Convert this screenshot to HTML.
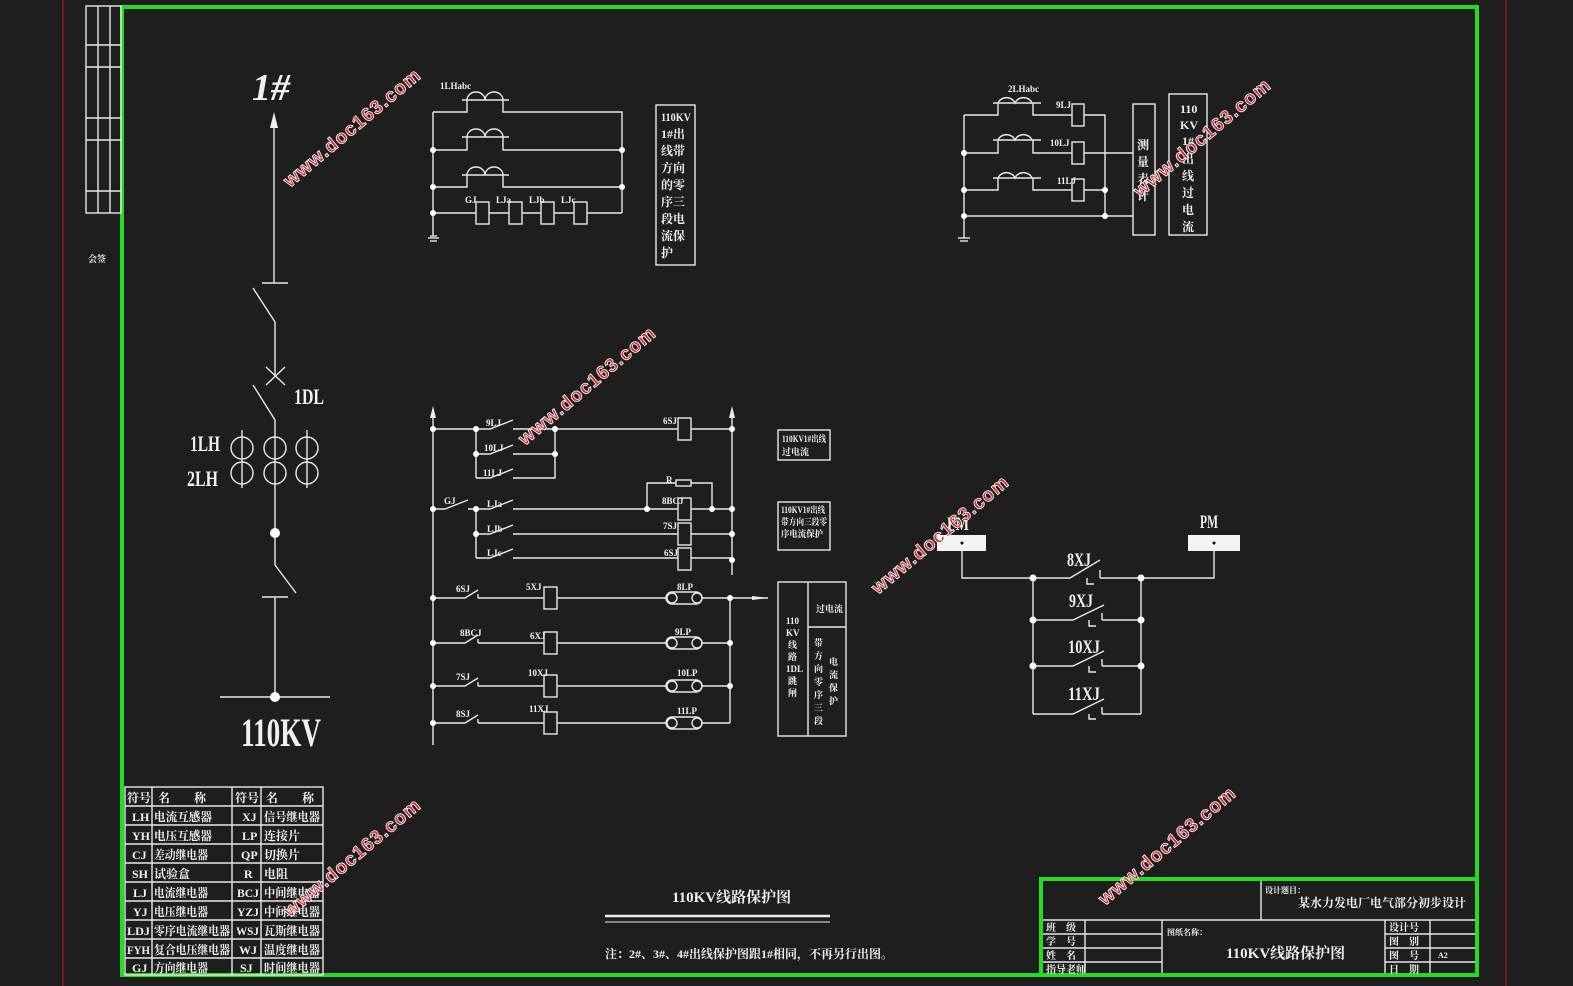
<!DOCTYPE html>
<html><head><meta charset="utf-8"><style>
html,body{margin:0;padding:0;background:#1e1e1e;}
svg{display:block;font-family:"Liberation Serif","Noto Serif CJK SC","Noto Sans CJK SC",serif;}
.w{stroke:#e8e8e8;stroke-width:1.4;fill:none}
.t{fill:#f0f0f0;font-weight:bold}
.wm{fill:#c8282c;stroke:#fff;stroke-width:0.8;font-family:"Liberation Sans",sans-serif;font-weight:bold;font-size:19px;letter-spacing:1px}
</style></head><body>
<svg width="1573" height="986" viewBox="0 0 1573 986" xmlns="http://www.w3.org/2000/svg">
<rect width="1573" height="986" fill="#1e1e1e"/>
<line x1="63" y1="0" x2="63" y2="986" stroke="#8a1c1c" stroke-width="1.5"/>
<line x1="1506" y1="0" x2="1506" y2="986" stroke="#8a1c1c" stroke-width="1.5"/>
<rect x="122" y="7" width="1355" height="968" fill="none" stroke="#22dd22" stroke-width="4"/>

<!-- top-left small block -->
<g class="w" stroke-width="1">
<rect x="86" y="6" width="35" height="207"/>
<line x1="98" y1="6" x2="98" y2="213"/><line x1="110" y1="6" x2="110" y2="213"/>
<line x1="86" y1="45" x2="121" y2="45"/><line x1="86" y1="67" x2="121" y2="67"/>
<line x1="86" y1="118" x2="121" y2="118"/><line x1="86" y1="140" x2="121" y2="140"/>
<line x1="86" y1="191" x2="121" y2="191"/>
</g>
<text class="t" font-size="9" x="88" y="262">会签</text>

<!-- single line diagram -->
<g class="w" stroke-width="1.5">
<line x1="274" y1="120" x2="274" y2="283"/>
<line x1="262" y1="283" x2="288" y2="283"/>
<line x1="253" y1="288" x2="275" y2="322"/>
<line x1="275" y1="322" x2="275" y2="376"/>
<line x1="266" y1="367" x2="285" y2="385"/><line x1="285" y1="367" x2="266" y2="385"/>
<line x1="253" y1="385" x2="275" y2="420"/>
<line x1="275" y1="420" x2="275" y2="565"/>
<line x1="275" y1="565" x2="296" y2="593"/>
<line x1="262" y1="597" x2="288" y2="597"/>
<line x1="275" y1="597" x2="275" y2="697"/>
<line x1="220" y1="697" x2="330" y2="697"/>
<line x1="242" y1="430" x2="242" y2="488"/><line x1="307" y1="430" x2="307" y2="488"/>
<circle cx="242" cy="448" r="11"/><circle cx="275" cy="448" r="11"/><circle cx="307" cy="448" r="11"/>
<circle cx="242" cy="473" r="11"/><circle cx="275" cy="473" r="11"/><circle cx="307" cy="473" r="11"/>
</g>
<polygon points="274,112 270,128 278,128" fill="#eee"/>
<circle cx="275" cy="533" r="5" fill="#fff"/><circle cx="275" cy="697" r="5" fill="#fff"/>
<text class="t" font-size="38" font-style="italic" x="252" y="100" font-weight="normal">1#</text>
<text class="t" font-size="22" x="294" y="404" font-weight="normal" textLength="30" lengthAdjust="spacingAndGlyphs">1DL</text>
<text class="t" font-size="22" x="190" y="451" font-weight="normal" textLength="30" lengthAdjust="spacingAndGlyphs">1LH</text>
<text class="t" font-size="22" x="187" y="486" font-weight="normal" textLength="31" lengthAdjust="spacingAndGlyphs">2LH</text>
<text class="t" font-size="40" x="241" y="746" font-weight="normal" textLength="80" lengthAdjust="spacingAndGlyphs">110KV</text>

<!-- top-left CT circuit -->
<g class="w">
<line x1="433" y1="112" x2="433" y2="236"/>
<line x1="430" y1="236" x2="437" y2="236"/><line x1="428" y1="238" x2="439" y2="238"/><line x1="430" y1="241" x2="437" y2="241"/>
<path d="M433 112H467V100 M503 100V112H622V213"/>
<path d="M433 150H467V137 M503 137V150H622"/>
<path d="M433 187H467V175 M503 175V187H622"/>
<path d="M462 100H509 M467 100a9 8 0 0 1 18 0a9 8 0 0 1 18 0"/>
<path d="M462 137H509 M467 137a9 8 0 0 1 18 0a9 8 0 0 1 18 0"/>
<path d="M462 175H509 M467 175a9 8 0 0 1 18 0a9 8 0 0 1 18 0"/>
<line x1="433" y1="213" x2="622" y2="213"/>
<rect x="476" y="202" width="13" height="22" fill="#1e1e1e"/>
<rect x="509" y="202" width="13" height="22" fill="#1e1e1e"/>
<rect x="541" y="202" width="13" height="22" fill="#1e1e1e"/>
<rect x="574" y="202" width="13" height="22" fill="#1e1e1e"/>
<rect x="656" y="105" width="39" height="160"/>
</g>
<g fill="#fff"><circle cx="433" cy="150" r="3"/><circle cx="433" cy="187" r="3"/><circle cx="433" cy="213" r="3"/><circle cx="622" cy="150" r="3"/><circle cx="622" cy="187" r="3"/></g>
<g class="t" font-size="9"><text x="440" y="89">1LHabc</text><text x="465" y="203">GJ</text><text x="496" y="203">LJa</text><text x="529" y="203">LJb</text><text x="561" y="203">LJc</text></g>
<g class="t" font-size="12"><text x="661" y="121" textLength="30" lengthAdjust="spacingAndGlyphs">110KV</text><text x="661" y="138">1#出</text><text x="661" y="155">线带</text><text x="661" y="172">方向</text><text x="661" y="189">的零</text><text x="661" y="206">序三</text><text x="661" y="223">段电</text><text x="661" y="240">流保</text><text x="661" y="257">护</text></g>

<!-- top-right CT circuit -->
<g class="w">
<line x1="964" y1="115" x2="964" y2="238"/>
<line x1="958" y1="238" x2="970" y2="238"/><line x1="960" y1="241" x2="968" y2="241"/>
<path d="M964 115H998V103 M1033 103V115H1072 M1084 115H1105V216"/>
<path d="M964 153H998V140 M1033 140V153H1072 M1084 153H1133"/>
<path d="M964 190H998V178 M1033 178V190H1072 M1084 190H1105"/>
<path d="M993 103H1041 M998 103a9 8 0 0 1 17 0a9 8 0 0 1 17 0"/>
<path d="M993 140H1041 M998 140a9 8 0 0 1 17 0a9 8 0 0 1 17 0"/>
<path d="M993 178H1041 M998 178a9 8 0 0 1 17 0a9 8 0 0 1 17 0"/>
<line x1="964" y1="216" x2="1133" y2="216"/>
<rect x="1072" y="104" width="12" height="22"/><rect x="1072" y="142" width="12" height="22"/><rect x="1072" y="179" width="12" height="22"/>
<rect x="1133" y="104" width="22" height="131"/>
<rect x="1169" y="94" width="38" height="141"/>
</g>
<g fill="#fff"><circle cx="964" cy="153" r="3"/><circle cx="964" cy="190" r="3"/><circle cx="964" cy="216" r="3"/><circle cx="1105" cy="190" r="3"/><circle cx="1105" cy="216" r="3"/></g>
<g class="t" font-size="9"><text x="1008" y="92">2LHabc</text><text x="1056" y="108">9LJ</text><text x="1050" y="146">10LJ</text><text x="1057" y="184">11LJ</text></g>
<g class="t" font-size="12"><text x="1137" y="149">测</text><text x="1137" y="166">量</text><text x="1137" y="183">表</text><text x="1137" y="200">计</text>
<text x="1180" y="113">110</text><text x="1180" y="129">KV</text><text x="1182" y="145">1#</text><text x="1182" y="163">出</text><text x="1182" y="180">线</text><text x="1182" y="197">过</text><text x="1182" y="214">电</text><text x="1182" y="231">流</text></g>

<!-- control circuit -->
<g class="w">
<line x1="433" y1="416" x2="433" y2="745"/>
<line x1="732" y1="416" x2="732" y2="575"/>
<path d="M433 429H476 M476 429H490 L513 420 M513 429H555 M555 429H678 M691 429H732"/>
<rect x="678" y="418" width="13" height="22"/>
<path d="M476 429V478 M476 454H490L513 445 M513 454H555 M476 478H490L513 469 M513 478H555V429"/>
<path d="M433 509H445L468 500 M468 509H490L513 500 M513 509H678 M691 509H732"/>
<rect x="678" y="498" width="13" height="22"/>
<path d="M647 509V483H676 M691 483H712V509"/>
<rect x="676" y="480" width="15" height="6"/>
<path d="M476 509V558 M476 534H490L513 525 M513 534H678 M691 534H732 M476 558H490L513 549 M513 558H678 M691 558H732"/>
<rect x="678" y="523" width="13" height="22"/><rect x="678" y="548" width="13" height="22"/>
<path d="M433 598H465L478 590 M478 598V594 M478 598H544 M557 598H666 M702 598H768"/>
<path d="M433 643H465L478 635 M478 643V639 M478 643H544 M557 643H666 M702 643H730"/>
<path d="M433 686H465L478 678 M478 686V682 M478 686H544 M557 686H666 M702 686H730"/>
<path d="M433 723H465L478 715 M478 723V719 M478 723H544 M557 723H666 M702 723H730"/>
<line x1="730" y1="598" x2="730" y2="723"/>
<rect x="544" y="587" width="13" height="22"/><rect x="544" y="632" width="13" height="22"/><rect x="544" y="675" width="13" height="22"/><rect x="544" y="712" width="13" height="22"/>
<g><rect x="666" y="592" width="36" height="12" rx="6"/><circle cx="672" cy="598" r="5"/><circle cx="697" cy="598" r="5"/></g>
<g><rect x="666" y="637" width="36" height="12" rx="6"/><circle cx="672" cy="643" r="5"/><circle cx="697" cy="643" r="5"/></g>
<g><rect x="666" y="680" width="36" height="12" rx="6"/><circle cx="672" cy="686" r="5"/><circle cx="697" cy="686" r="5"/></g>
<g><rect x="666" y="717" width="36" height="12" rx="6"/><circle cx="672" cy="723" r="5"/><circle cx="697" cy="723" r="5"/></g>
<rect x="778" y="430" width="52" height="30"/>
<rect x="778" y="502" width="52" height="48"/>
<rect x="778" y="582" width="68" height="154"/>
<line x1="808" y1="582" x2="808" y2="736"/><line x1="808" y1="627" x2="846" y2="627"/>
</g>
<polygon points="433,406 430,418 436,418" fill="#eee"/><polygon points="732,406 729,418 735,418" fill="#eee"/>
<polygon points="768,598 752,596 752,600" fill="#eee"/>
<g fill="#fff"><circle cx="433" cy="429" r="3"/><circle cx="476" cy="429" r="3"/><circle cx="555" cy="429" r="3"/><circle cx="555" cy="454" r="3"/><circle cx="732" cy="429" r="3"/><circle cx="476" cy="454" r="3"/>
<circle cx="433" cy="509" r="3"/><circle cx="476" cy="509" r="3"/><circle cx="476" cy="534" r="3"/><circle cx="647" cy="509" r="3"/><circle cx="712" cy="509" r="3"/><circle cx="732" cy="509" r="3"/><circle cx="732" cy="534" r="3"/><circle cx="732" cy="560" r="3"/>
<circle cx="433" cy="598" r="3"/><circle cx="433" cy="643" r="3"/><circle cx="433" cy="686" r="3"/><circle cx="433" cy="723" r="3"/><circle cx="730" cy="598" r="3"/><circle cx="730" cy="643" r="3"/><circle cx="730" cy="686" r="3"/></g>
<g class="t" font-size="9">
<text x="486" y="426">9LJ</text><text x="484" y="451">10LJ</text><text x="483" y="476">11LJ</text><text x="663" y="424">6SJ</text>
<text x="444" y="504">GJ</text><text x="487" y="507">LJa</text><text x="487" y="532">LJb</text><text x="487" y="556">LJc</text>
<text x="666" y="483">R</text><text x="662" y="504">8BCJ</text><text x="663" y="529">7SJ</text><text x="664" y="556">6SJ</text>
<text x="456" y="592">6SJ</text><text x="460" y="636">8BCJ</text><text x="456" y="680">7SJ</text><text x="456" y="717">8SJ</text>
<text x="526" y="590">5XJ</text><text x="530" y="639">6XJ</text><text x="528" y="676">10XJ</text><text x="529" y="712">11XJ</text>
<text x="677" y="590">8LP</text><text x="675" y="635">9LP</text><text x="677" y="676">10LP</text><text x="677" y="714">11LP</text>
<text x="782" y="442" textLength="44" lengthAdjust="spacingAndGlyphs">110KV1#出线</text><text x="782" y="455">过电流</text>
<text x="781" y="513" textLength="44" lengthAdjust="spacingAndGlyphs">110KV1#出线</text><text x="781" y="525" textLength="46" lengthAdjust="spacingAndGlyphs">带方向三段零</text><text x="781" y="537" textLength="42" lengthAdjust="spacingAndGlyphs">序电流保护</text>
<text x="816" y="612">过电流</text>
</g>
<g class="t" font-size="9"><text x="786" y="624">110</text><text x="786" y="636">KV</text><text x="788" y="648">线</text><text x="788" y="660">路</text><text x="786" y="672">1DL</text><text x="788" y="684">跳</text><text x="788" y="696">闸</text>
<text x="814" y="646">带</text><text x="814" y="659">方</text><text x="814" y="672">向</text><text x="814" y="685">零</text><text x="814" y="698">序</text><text x="814" y="711">三</text><text x="814" y="724">段</text>
<text x="829" y="665">电</text><text x="829" y="678">流</text><text x="829" y="691">保</text><text x="829" y="704">护</text></g>

<!-- FM / PM circuit -->
<rect x="937" y="535" width="49" height="16" fill="#f4f4f4"/>
<rect x="1188" y="535" width="52" height="16" fill="#f4f4f4"/>
<circle cx="962" cy="543" r="1.5" fill="#111"/><circle cx="1214" cy="543" r="1.5" fill="#111"/>
<g class="w">
<path d="M962 551V578H1070L1100 560 M1100 578V570 M1100 578H1214V551"/>
<path d="M1087 578V584H1094"/>
<line x1="1033" y1="578" x2="1033" y2="714"/><line x1="1141" y1="578" x2="1141" y2="714"/>
<path d="M1033 620H1073L1104 605 M1102 620V613 M1102 620H1141 M1089 620V626H1096"/>
<path d="M1033 666H1073L1104 651 M1102 666V659 M1102 666H1141 M1089 666V672H1096"/>
<path d="M1033 714H1073L1104 699 M1102 714V707 M1102 714H1141 M1089 714V719H1096"/>
</g>
<g fill="#fff"><circle cx="1033" cy="578" r="3.5"/><circle cx="1141" cy="578" r="3.5"/><circle cx="1033" cy="620" r="3.5"/><circle cx="1141" cy="620" r="3.5"/><circle cx="1033" cy="666" r="3.5"/><circle cx="1141" cy="666" r="3.5"/></g>
<g class="t" font-size="19" font-weight="normal"><text x="947" y="530" textLength="22" lengthAdjust="spacingAndGlyphs">FM</text><text x="1200" y="528" textLength="18" lengthAdjust="spacingAndGlyphs">PM</text>
<text x="1067" y="566" textLength="24" lengthAdjust="spacingAndGlyphs">8XJ</text><text x="1069" y="607" textLength="24" lengthAdjust="spacingAndGlyphs">9XJ</text><text x="1068" y="653" textLength="32" lengthAdjust="spacingAndGlyphs">10XJ</text><text x="1068" y="700" textLength="32" lengthAdjust="spacingAndGlyphs">11XJ</text></g>

<!-- legend table -->
<g class="w" stroke-width="1.2">
<rect x="125" y="787" width="198" height="188"/>
<line x1="152" y1="787" x2="152" y2="975"/><line x1="232" y1="787" x2="232" y2="975"/><line x1="261" y1="787" x2="261" y2="975"/>
<line x1="125" y1="806" x2="323" y2="806"/><line x1="125" y1="825" x2="323" y2="825"/><line x1="125" y1="844" x2="323" y2="844"/><line x1="125" y1="863" x2="323" y2="863"/><line x1="125" y1="882" x2="323" y2="882"/><line x1="125" y1="901" x2="323" y2="901"/><line x1="125" y1="920" x2="323" y2="920"/><line x1="125" y1="939" x2="323" y2="939"/><line x1="125" y1="958" x2="323" y2="958"/>
</g>
<g class="t" font-size="12" lengthAdjust="spacingAndGlyphs">
<text x="127" y="802" textLength="24" lengthAdjust="spacingAndGlyphs">符号</text><text x="158" y="802">名　　称</text><text x="235" y="802" textLength="24" lengthAdjust="spacingAndGlyphs">符号</text><text x="266" y="802">名　　称</text>
<text x="132" y="821">LH</text><text x="154" y="821" textLength="58" lengthAdjust="spacingAndGlyphs">电流互感器</text><text x="242" y="821">XJ</text><text x="264" y="821" textLength="56" lengthAdjust="spacingAndGlyphs">信号继电器</text>
<text x="132" y="840">YH</text><text x="154" y="840" textLength="58" lengthAdjust="spacingAndGlyphs">电压互感器</text><text x="242" y="840">LP</text><text x="264" y="840">连接片</text>
<text x="132" y="859">CJ</text><text x="154" y="859" textLength="54" lengthAdjust="spacingAndGlyphs">差动继电器</text><text x="241" y="859">QP</text><text x="264" y="859">切换片</text>
<text x="132" y="878">SH</text><text x="154" y="878">试验盒</text><text x="244" y="878">R</text><text x="264" y="878">电阻</text>
<text x="133" y="897">LJ</text><text x="154" y="897" textLength="54" lengthAdjust="spacingAndGlyphs">电流继电器</text><text x="237" y="897" textLength="22" lengthAdjust="spacingAndGlyphs">BCJ</text><text x="264" y="897" textLength="56" lengthAdjust="spacingAndGlyphs">中间继电器</text>
<text x="133" y="916">YJ</text><text x="154" y="916" textLength="54" lengthAdjust="spacingAndGlyphs">电压继电器</text><text x="237" y="916" textLength="22" lengthAdjust="spacingAndGlyphs">YZJ</text><text x="264" y="916" textLength="56" lengthAdjust="spacingAndGlyphs">中间继电器</text>
<text x="127" y="935" textLength="23" lengthAdjust="spacingAndGlyphs">LDJ</text><text x="154" y="935" textLength="76" lengthAdjust="spacingAndGlyphs">零序电流继电器</text><text x="236" y="935" textLength="23" lengthAdjust="spacingAndGlyphs">WSJ</text><text x="264" y="935" textLength="56" lengthAdjust="spacingAndGlyphs">瓦斯继电器</text>
<text x="127" y="954" textLength="23" lengthAdjust="spacingAndGlyphs">FYH</text><text x="154" y="954" textLength="76" lengthAdjust="spacingAndGlyphs">复合电压继电器</text><text x="239" y="954" textLength="18" lengthAdjust="spacingAndGlyphs">WJ</text><text x="264" y="954" textLength="56" lengthAdjust="spacingAndGlyphs">温度继电器</text>
<text x="132" y="972">GJ</text><text x="154" y="972" textLength="54" lengthAdjust="spacingAndGlyphs">方向继电器</text><text x="240" y="972">SJ</text><text x="264" y="972" textLength="56" lengthAdjust="spacingAndGlyphs">时间继电器</text>
</g>

<!-- drawing title -->
<text class="t" font-size="15" x="672" y="902">110KV线路保护图</text>
<line x1="605" y1="916" x2="830" y2="916" stroke="#eee" stroke-width="2.5"/>
<line x1="605" y1="922" x2="830" y2="922" stroke="#eee" stroke-width="1"/>
<text class="t" font-size="12" x="605" y="958">注：2#、3#、4#出线保护图跟1#相同，不再另行出图。</text>

<!-- title block -->
<g class="w" stroke-width="1.2">
<line x1="1261" y1="879" x2="1261" y2="920"/>
<line x1="1041" y1="920" x2="1477" y2="920"/>
<line x1="1085" y1="920" x2="1085" y2="975"/><line x1="1162" y1="920" x2="1162" y2="975"/><line x1="1385" y1="920" x2="1385" y2="975"/><line x1="1430" y1="920" x2="1430" y2="975"/>
<line x1="1041" y1="934" x2="1162" y2="934"/><line x1="1041" y1="948" x2="1162" y2="948"/><line x1="1041" y1="962" x2="1162" y2="962"/>
<line x1="1385" y1="934" x2="1477" y2="934"/><line x1="1385" y1="948" x2="1477" y2="948"/><line x1="1385" y1="962" x2="1477" y2="962"/>
</g>
<rect x="1041" y="879" width="436" height="96" fill="none" stroke="#22dd22" stroke-width="4"/>
<g class="t" font-size="10">
<text x="1265" y="893" font-size="8">设计题目：</text>
<text x="1298" y="907" font-size="12">某水力发电厂电气部分初步设计</text>
<text x="1046" y="931">班　级</text><text x="1046" y="945">学　号</text><text x="1046" y="959">姓　名</text><text x="1046" y="973">指导老师</text>
<text x="1167" y="935" font-size="8">图纸名称：</text>
<text x="1226" y="958" font-size="15">110KV线路保护图</text>
<text x="1389" y="931">设计号</text><text x="1389" y="945">图　别</text><text x="1389" y="959">图　号</text><text x="1389" y="973">日　期</text>
<text x="1438" y="958" font-size="8">A2</text>
</g>

<!-- watermarks -->
<g class="wm">
<text transform="translate(290,188) rotate(-40)">www.doc163.com</text>
<text transform="translate(525,446) rotate(-40)">www.doc163.com</text>
<text transform="translate(878,595) rotate(-40)">www.doc163.com</text>
<text transform="translate(290,918) rotate(-40)">www.doc163.com</text>
<text transform="translate(1105,906) rotate(-40)">www.doc163.com</text>
<text transform="translate(1140,198) rotate(-40)">www.doc163.com</text>
</g>
</svg>
</body></html>
